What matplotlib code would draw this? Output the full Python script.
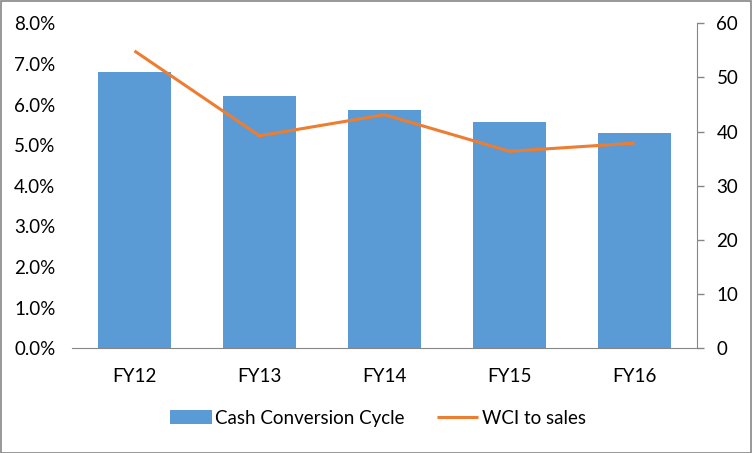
import matplotlib.pyplot as plt
from matplotlib.ticker import FuncFormatter

# chart values
years = ["FY12", "FY13", "FY14", "FY15", "FY16"]
ccc_days = [51.0, 46.5, 43.9, 41.7, 39.7]          # Cash Conversion Cycle (right axis)
wci_to_sales = [7.32, 5.23, 5.75, 4.85, 5.05]      # WCI to sales, % (left axis)

BLUE = "#5B9BD5"
ORANGE = "#ED7D31"
GREY = "#868686"

plt.rcParams["font.family"] = ["Lato", "DejaVu Sans"]
plt.rcParams["font.size"] = 13.5

fig = plt.figure(figsize=(7.53, 4.53), dpi=100)
fig.patches.append(plt.Rectangle((0.001, 0.001), 0.997, 0.996, transform=fig.transFigure,
                                 fill=False, edgecolor=GREY, linewidth=1.2))

ax = fig.add_axes([0.0956, 0.2311, 0.8300, 0.7175])   # left: percent
ax2 = ax.twinx()                                      # right: days

x = range(len(years))
bars = ax2.bar(x, ccc_days, width=0.58, color=BLUE, label="Cash Conversion Cycle", zorder=2)
line, = ax.plot(x, wci_to_sales, color=ORANGE, linewidth=2.2, label="WCI to sales",
                solid_capstyle="butt", zorder=3)
ax.set_zorder(ax2.get_zorder() + 1)
ax.patch.set_visible(False)

ax.set_xlim(-0.5, len(years) - 0.5)
ax.set_ylim(0, 8)
ax.set_yticks(range(0, 9))
ax.yaxis.set_major_formatter(FuncFormatter(lambda v, _: f"{v:.1f}%"))
ax2.set_ylim(0, 60)
ax2.set_yticks(range(0, 61, 10))

ax.set_xticks(list(x))
ax.set_xticklabels(years)

for a in (ax, ax2):
    for s in ("top", "left", "right"):
        a.spines[s].set_visible(False)
ax.spines["bottom"].set_color(GREY)
ax2.spines["bottom"].set_visible(False)
ax2.spines["right"].set_visible(True)
ax2.spines["right"].set_color(GREY)

ax.tick_params(axis="y", length=0, pad=12, colors="black")
ax.tick_params(axis="x", length=0, pad=14)
ax2.tick_params(axis="y", length=5, width=1, color=GREY, pad=9, direction="out")

fig.legend([bars, line], ["Cash Conversion Cycle", "WCI to sales"], loc="center",
           bbox_to_anchor=(0.502, 0.077), ncol=2, frameon=False, handlelength=2.2,
           handletextpad=0.2, columnspacing=1.7, handleheight=0.75)

fig.savefig("out.png", dpi=100)
